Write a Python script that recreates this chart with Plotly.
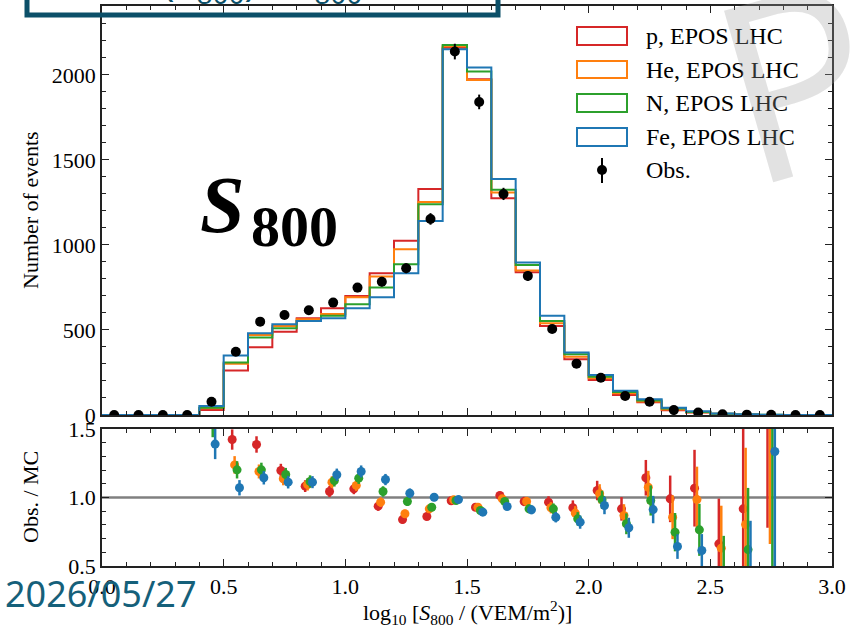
import numpy as np
import plotly.graph_objects as go

# ---------------- data ----------------
bin_edges = np.round(np.linspace(0.0, 3.0, 31), 2)
bin_centers = np.round((bin_edges[:-1] + bin_edges[1:]) / 2, 3)

mc_p  = [0, 0, 0, 0, 29, 262, 398, 490, 569, 627, 700, 833, 1024, 1329, 2160, 1975, 1275, 839, 523, 328, 206, 118, 75, 28, 14, 6, 2, 0.5, 0, 0]
mc_he = [0, 0, 0, 0, 39, 302, 470, 523, 563, 594, 692, 814, 975, 1253, 2168, 1970, 1308, 849, 539, 343, 216, 128, 80, 33, 16, 7, 2.5, 0.7, 0, 0]
mc_n  = [0, 0, 0, 0, 43, 308, 455, 510, 553, 584, 651, 749, 886, 1239, 2175, 2020, 1324, 882, 553, 357, 225, 135, 85, 38, 18, 8, 3, 0.8, 0, 0]
mc_fe = [0, 0, 0, 0, 53, 350, 480, 533, 553, 569, 627, 692, 833, 1141, 2150, 2043, 1388, 896, 584, 367, 235, 143, 92, 43, 22, 9, 4, 1, 0, 0]

obs     = [0, 0, 0, 0, 78, 372, 549, 588, 616, 661, 749, 784, 863, 1153, 2137, 1841, 1300, 818, 506, 302, 219, 112, 78, 29, 14, 4, 2, 1, 0, 0]
obs_err = [0, 0, 0, 0, 9, 19, 23, 24, 25, 26, 27, 28, 29, 34, 46, 43, 36, 29, 22, 17, 15, 11, 9, 5, 4, 2, 1.4, 1, 0, 0]

N = None
ratio_p  = [N, N, N, N, 2.7, 1.423, 1.387, 1.197, 1.083, 1.044, 1.063, 0.937, 0.839, 0.861, 0.976, 0.929, 1.015, 0.971, 0.966, 0.925, 1.051, 0.917, 1.144, 0.99, 1.068, 0.662, 0.917, 2.2, N, N]
ratio_he = [N, N, N, N, 2.0, 1.238, 1.19, 1.136, 1.095, 1.112, 1.088, 0.966, 0.881, 0.917, 0.983, 0.929, 0.99, 0.971, 0.925, 0.886, 1.027, 0.869, 1.075, 0.856, 0.985, 0.63, 0.803, 2.0, N, N]
ratio_n  = [N, N, N, N, 1.56, 1.202, 1.202, 1.168, 1.117, 1.124, 1.141, 1.044, 0.971, 0.929, 0.978, 0.905, 0.971, 0.917, 0.917, 0.844, 0.983, 0.808, 0.978, 0.747, 0.764, 0.45, 0.62, 1.8, N, N]
ratio_fe = [N, N, N, N, 1.39, 1.071, 1.144, 1.112, 1.112, 1.166, 1.19, 1.131, 1.031, 1.002, 0.985, 0.893, 0.934, 0.91, 0.856, 0.82, 0.942, 0.779, 0.912, 0.642, 0.613, 0.3, 0.35, 1.336, N, N]

err_p  = [N, N, N, N, 0.3, 0.074, 0.06, 0.049, 0.043, 0.041, 0.039, 0.034, 0.029, 0.025, 0.021, 0.021, 0.028, 0.034, 0.043, 0.054, 0.071, 0.086, 0.13, 0.17, 0.28, 0.33, 0.65, 1.42, N, N]
err_he = [N, N, N, N, 0.23, 0.064, 0.051, 0.047, 0.044, 0.043, 0.04, 0.035, 0.03, 0.027, 0.022, 0.021, 0.028, 0.034, 0.041, 0.051, 0.07, 0.082, 0.12, 0.16, 0.24, 0.31, 0.56, 1.34, N, N]
err_n  = [N, N, N, N, 0.12, 0.063, 0.052, 0.048, 0.045, 0.044, 0.042, 0.038, 0.033, 0.027, 0.022, 0.021, 0.027, 0.032, 0.04, 0.049, 0.067, 0.076, 0.11, 0.14, 0.19, 0.27, 0.45, 1.4, N, N]
err_fe = [N, N, N, N, 0.11, 0.056, 0.049, 0.046, 0.044, 0.045, 0.044, 0.041, 0.035, 0.029, 0.022, 0.021, 0.026, 0.032, 0.038, 0.048, 0.064, 0.073, 0.1, 0.09, 0.12, 0.15, 0.48, 1.4, N, N]

labels = ["p, EPOS LHC", "He, EPOS LHC", "N, EPOS LHC", "Fe, EPOS LHC"]
colors = ["#d62728", "#ff7f0e", "#2ca02c", "#1f77b4"]
offsets = [-0.015, -0.005, 0.005, 0.015]

# ---------------- geometry ----------------
W, H = 850, 633
L, R, T, B = 102, 18, 6, 67
PW, PH = W - L - R, H - T - B

def px(x):
    return (x - L) / PW

def py(y):
    return (H - B - y) / PH

SERIF = "Liberation Serif"
TEAL = "#0c5069"

fig = go.Figure()

mcs = [mc_p, mc_he, mc_n, mc_fe]
ratios = [ratio_p, ratio_he, ratio_n, ratio_fe]
errs = [err_p, err_he, err_n, err_fe]

for mc, c in zip(mcs, colors):
    fig.add_trace(go.Scatter(
        x=bin_edges, y=list(mc) + [mc[-1]], mode="lines",
        line=dict(shape="hv", color=c, width=2),
        xaxis="x", yaxis="y", showlegend=False, hoverinfo="skip"))

fig.add_trace(go.Scatter(
    x=bin_centers, y=obs, mode="markers",
    marker=dict(color="black", size=10),
    error_y=dict(type="data", array=obs_err, color="black", thickness=2, width=0),
    xaxis="x", yaxis="y", showlegend=False))

for r, e, c, off in zip(ratios, errs, colors, offsets):
    fig.add_trace(go.Scatter(
        x=bin_centers + off, y=r, mode="markers",
        marker=dict(color=c, size=9),
        error_y=dict(type="data", array=e, color=c, thickness=2.5, width=0),
        xaxis="x2", yaxis="y2", showlegend=False))

axis_common = dict(
    showline=True, linecolor="#222", linewidth=1.5, mirror="allticks",
    ticks="inside", ticklen=7, tickwidth=1.3, tickcolor="#222",
    showgrid=False, zeroline=False, automargin=False,
    tickfont=dict(family=SERIF, size=22, color="black"),
)

top_lo = (H - B - 415) / PH
rat_hi = (H - B - 429) / PH

fig.update_layout(
    width=W, height=H,
    margin=dict(l=L, r=R, t=T, b=B, autoexpand=False),
    paper_bgcolor="white", plot_bgcolor="white",
    showlegend=False,
    xaxis=dict(domain=[0, 1], anchor="y", range=[0, 3], tick0=0, dtick=0.5,
               showticklabels=False, matches="x2",
               minor=dict(dtick=0.1, ticks="inside", ticklen=4, tickwidth=1, tickcolor="#222"),
               **axis_common),
    yaxis=dict(domain=[top_lo, 1], anchor="x", range=[0, 2405], tick0=0, dtick=500,
               minor=dict(dtick=100, ticks="inside", ticklen=4, tickwidth=1, tickcolor="#222"),
               **axis_common),
    xaxis2=dict(domain=[0, 1], anchor="y2", range=[0, 3], tick0=0, dtick=0.5,
                tickformat=".1f",
                minor=dict(dtick=0.1, ticks="inside", ticklen=4, tickwidth=1, tickcolor="#222"),
                **axis_common),
    yaxis2=dict(domain=[0, rat_hi], anchor="x2", range=[0.5, 1.5], tick0=0.5, dtick=0.5,
                tickformat=".1f",
                minor=dict(dtick=0.1, ticks="inside", ticklen=4, tickwidth=1, tickcolor="#222"),
                **axis_common),
)

shapes = []
shapes.append(dict(type="line", xref="x2", yref="y2", x0=0, x1=3, y0=1, y1=1,
                   line=dict(color="#808080", width=2.5), layer="below"))

box_y = [(27, 45), (61, 78), (94, 112), (128, 146)]
for (y0, y1), c in zip(box_y, colors):
    shapes.append(dict(type="rect", xref="paper", yref="paper",
                       x0=px(577), x1=px(627), y0=py(y1), y1=py(y0),
                       line=dict(color=c, width=2), fillcolor="rgba(0,0,0,0)"))
shapes.append(dict(type="line", xref="paper", yref="paper",
                   x0=px(602), x1=px(602), y0=py(183), y1=py(158),
                   line=dict(color="black", width=2)))
shapes.append(dict(type="circle", xref="paper", yref="paper",
                   x0=px(597), x1=px(607), y0=py(175), y1=py(165),
                   fillcolor="black", line=dict(color="black", width=0)))
shapes.append(dict(type="rect", xref="paper", yref="paper",
                   x0=px(27), x1=px(498), y0=py(15), y1=py(-30),
                   line=dict(color=TEAL, width=5), fillcolor="rgba(0,0,0,0)", layer="above"))
fig.update_layout(shapes=shapes)

ann = []
leg_y = [36, 69.5, 103, 137, 170]
for lab, y in zip(labels + ["Obs."], leg_y):
    ann.append(dict(text=lab, xref="paper", yref="paper", x=px(644), y=py(y),
                    xanchor="left", yanchor="middle", showarrow=False,
                    font=dict(family=SERIF, size=24, color="black")))

ann.append(dict(text="Number of events", xref="paper", yref="paper", x=px(30), y=py(210),
                textangle=-90, xanchor="center", yanchor="middle", showarrow=False,
                font=dict(family=SERIF, size=22, color="black")))
ann.append(dict(text="Obs. / MC", xref="paper", yref="paper", x=px(30), y=py(497),
                textangle=-90, xanchor="center", yanchor="middle", showarrow=False,
                font=dict(family=SERIF, size=22, color="black")))
ann.append(dict(text="log<sub>10</sub> [<i>S</i><sub>800</sub> / (VEM/m<sup>2</sup>)]",
                xref="paper", yref="paper", x=px(467), y=py(612),
                xanchor="center", yanchor="middle", showarrow=False,
                font=dict(family=SERIF, size=22, color="black")))

ann.append(dict(text="<b><i>S</i></b>", xref="paper", yref="paper", x=px(222), y=py(205),
                xanchor="center", yanchor="middle", showarrow=False,
                font=dict(family=SERIF, size=80, color="black")))
ann.append(dict(text="<b>800</b>", xref="paper", yref="paper", x=px(294), y=py(226),
                xanchor="center", yanchor="middle", showarrow=False,
                font=dict(family=SERIF, size=58, color="black")))

ann.append(dict(text="σ(S<sub>800</sub>) / S<sub>800</sub>", xref="paper", yref="paper",
                x=px(250), y=py(14), xanchor="center", yanchor="bottom", showarrow=False,
                font=dict(family="Noto Sans", size=40, color=TEAL)))

ann.append(dict(text="2026/05/27", xref="paper", yref="paper", x=px(3), y=py(593),
                xanchor="left", yanchor="middle", showarrow=False,
                font=dict(family="Noto Sans", size=36, color="#15607a")))

ann.append(dict(text="P", xref="paper", yref="paper", x=px(795), y=py(75),
                xanchor="center", yanchor="middle", showarrow=False, textangle=-16,
                font=dict(family="Open Sans", size=250, color="rgba(160,160,160,0.3)")))

fig.update_layout(annotations=ann)

fig.write_html("out.html", config={"displayModeBar": False},
               post_script="document.body.style.margin='0';document.body.style.padding='0';")
